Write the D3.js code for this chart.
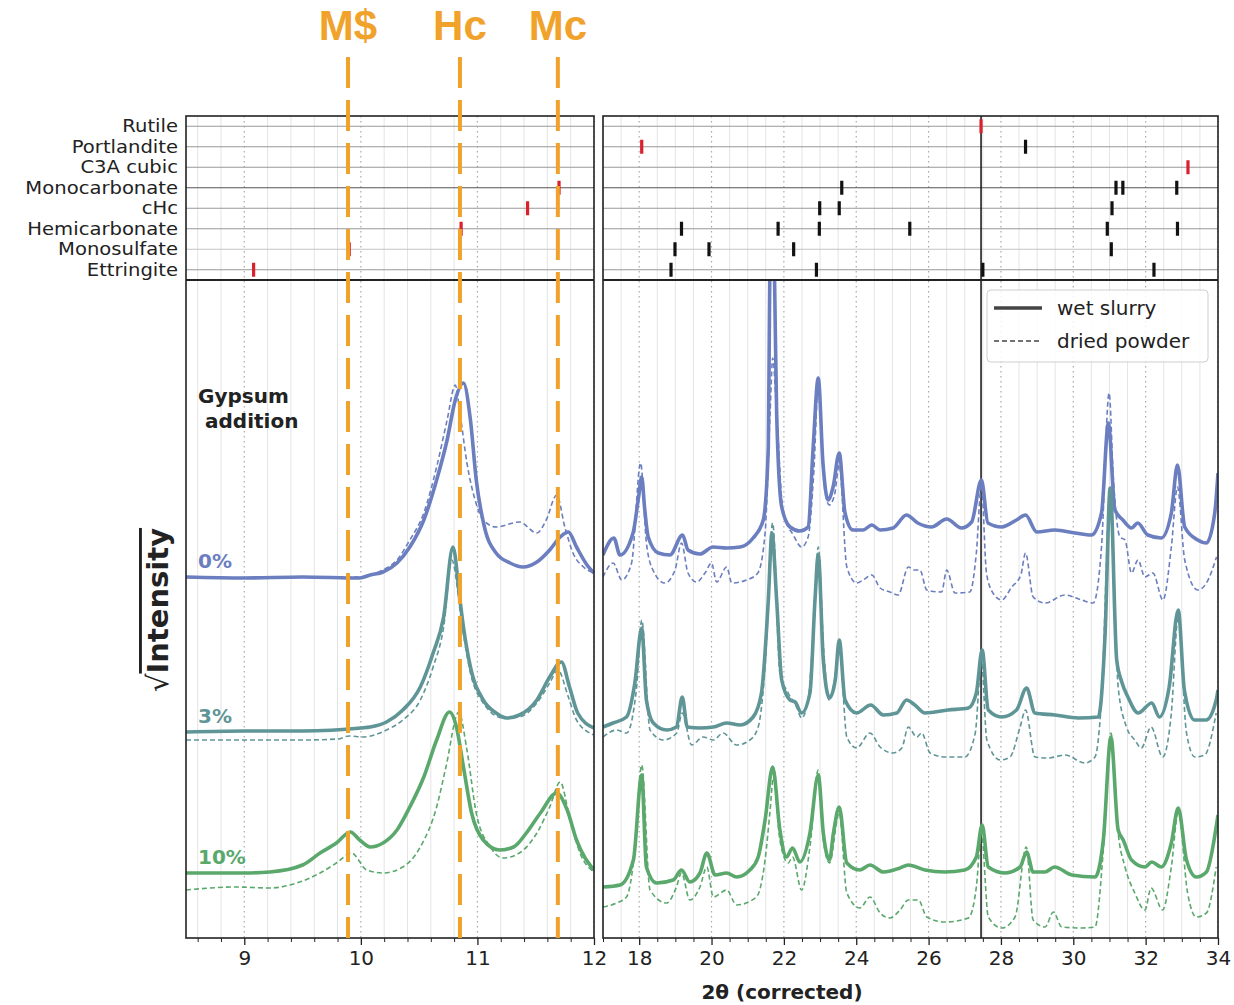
<!DOCTYPE html>
<html>
<head>
<meta charset="utf-8">
<script src="https://cdn.jsdelivr.net/npm/d3@7"></script>
<style>
  body { margin: 0; background: #fff; }
  svg { font-family: "DejaVu Sans", sans-serif; }
</style>
</head>
<body>
<svg id="chart" width="1234" height="1005"></svg>
<script>
// ---- data ----
const phases = ['Rutile', 'Portlandite', 'C3A cubic', 'Monocarbonate', 'cHc', 'Hemicarbonate', 'Monosulfate', 'Ettringite'];

// reflection positions (2theta) per phase
const reflRutile = [27.45];
const reflPortlandite = [18.07, 28.68];
const reflC3A = [33.17];
const reflMonocarbonate = [11.70, 23.60, 31.18, 31.37, 32.86];
const reflCHc = [11.43, 22.99, 23.53, 31.07];
const reflHemicarbonate = [10.86, 19.17, 21.84, 22.98, 25.48, 30.94, 32.88];
const reflMonosulfate = [9.90, 18.99, 19.93, 22.27, 31.05];
const reflEttringite = [9.08, 18.88, 22.90, 27.50, 32.23];
// reflections drawn in red (main reflection of each phase)
const mainRefl = [27.45, 18.07, 33.17, 11.70, 11.43, 10.86, 9.90, 9.08];

// reference lines at the top
const refLabels = ['M$', 'Hc', 'Mc'];
const refPositions = [9.89, 10.85, 11.69];

const leftTicks = [9, 10, 11, 12];
const rightTicks = [18, 20, 22, 24, 26, 28, 30, 32, 34];
const blackLine = 27.45;

const seriesNames = ['0%', '3%', '10%'];

// sqrt intensity (a.u., offset per gypsum addition), [2theta, value]
const wet0 = [[8.5,361],[9.0,360],[9.5,361],[9.99,360],[10.08,363],[10.19,366],[10.31,375],[10.42,391],[10.54,418],[10.65,458],[10.74,498],[10.81,538],[10.88,555],[10.94,518],[10.99,458],[11.06,411],[11.16,385],[11.28,375],[11.39,371],[11.51,376],[11.62,388],[11.71,401],[11.78,406],[11.85,391],[11.94,373],[12.0,365],
  [17.0,383],[17.3,400],[17.47,383],[17.83,405],[17.98,440],[18.07,461],[18.15,430],[18.25,401],[18.53,385],[18.85,383],[19.2,403],[19.35,388],[19.68,384],[20.04,391],[20.42,390],[20.79,391],[21.15,400],[21.43,418],[21.57,491],[21.6,620],[21.67,820],[21.75,640],[21.8,525],[21.94,431],[22.17,411],[22.44,407],[22.67,411],[22.81,491],[22.95,560],[23.08,475],[23.22,438],[23.36,451],[23.53,485],[23.69,425],[23.91,408],[24.19,408],[24.43,413],[24.66,408],[25.02,410],[25.39,423],[25.7,415],[26.08,411],[26.5,419],[26.91,410],[27.19,416],[27.46,458],[27.64,415],[28.02,411],[28.43,418],[28.68,423],[28.99,406],[29.49,408],[30.05,405],[30.5,403],[30.78,425],[30.97,515],[31.15,428],[31.37,418],[31.61,410],[31.78,415],[32.06,403],[32.43,400],[32.71,425],[32.88,473],[33.08,411],[33.44,398],[33.68,395],[33.91,425],[34.0,465]];
const dry0 = [[8.5,361],[9.0,360],[9.5,361],[9.99,361],[10.08,363],[10.19,368],[10.31,378],[10.42,398],[10.54,425],[10.65,471],[10.74,518],[10.81,553],[10.85,525],[10.91,475],[10.98,438],[11.05,418],[11.16,411],[11.36,416],[11.51,405],[11.59,418],[11.68,443],[11.75,411],[11.82,385],[11.91,371],[12.0,365],
  [17.0,361],[17.28,375],[17.52,358],[17.79,375],[18.04,475],[18.2,395],[18.38,368],[18.71,355],[18.99,368],[19.17,395],[19.35,365],[19.59,356],[19.82,365],[20.0,375],[20.14,356],[20.42,371],[20.56,355],[20.97,358],[21.28,365],[21.48,405],[21.62,525],[21.69,580],[21.8,525],[21.98,425],[22.26,403],[22.49,391],[22.67,401],[22.83,468],[22.95,553],[23.1,458],[23.25,433],[23.4,443],[23.53,473],[23.74,371],[24.01,355],[24.19,358],[24.43,363],[24.66,350],[24.93,346],[25.16,343],[25.44,371],[25.6,368],[25.76,368],[25.95,348],[26.36,346],[26.5,368],[26.73,345],[27.14,346],[27.32,385],[27.46,453],[27.6,365],[27.78,345],[28.02,338],[28.3,351],[28.55,363],[28.68,385],[28.89,341],[29.22,335],[29.77,343],[30.23,338],[30.55,335],[30.78,391],[30.99,545],[31.11,458],[31.29,401],[31.43,398],[31.61,365],[31.79,378],[31.98,361],[32.2,365],[32.48,338],[32.71,391],[32.88,451],[33.08,378],[33.44,348],[33.68,355],[33.96,381]];
const wet3 = [[8.5,206],[9.0,207],[9.5,207],[10.0,210],[10.08,211],[10.22,216],[10.36,228],[10.51,251],[10.62,285],[10.71,321],[10.79,391],[10.85,338],[10.88,311],[10.94,271],[11.05,238],[11.16,225],[11.25,220],[11.36,223],[11.51,238],[11.62,261],[11.72,276],[11.79,251],[11.86,225],[12.0,210],
  [17.0,211],[17.28,215],[17.65,221],[17.88,255],[18.07,310],[18.2,238],[18.39,215],[18.76,208],[19.03,211],[19.19,241],[19.33,211],[19.68,210],[20.05,211],[20.42,215],[20.79,213],[21.15,221],[21.38,245],[21.57,338],[21.67,405],[21.8,338],[21.94,258],[22.17,238],[22.31,236],[22.49,225],[22.72,245],[22.86,338],[22.95,383],[23.09,278],[23.26,240],[23.42,258],[23.53,298],[23.69,238],[24.01,225],[24.4,233],[24.75,223],[25.12,225],[25.39,238],[25.62,233],[25.9,225],[26.54,228],[27.1,230],[27.32,245],[27.48,288],[27.65,228],[28.02,221],[28.43,228],[28.71,250],[28.94,225],[29.49,223],[30.14,220],[30.69,221],[30.88,305],[31.02,450],[31.2,278],[31.34,256],[31.51,241],[31.79,225],[32.17,235],[32.38,221],[32.65,251],[32.9,328],[33.07,248],[33.35,218],[33.67,218],[33.95,238],[34.0,248]];
const dry3 = [[8.5,198],[9.0,198],[9.5,198],[9.8,199],[9.9,202],[10.02,201],[10.22,208],[10.36,218],[10.51,238],[10.62,271],[10.71,311],[10.78,378],[10.87,311],[10.94,265],[11.05,235],[11.22,220],[11.36,221],[11.51,235],[11.62,255],[11.69,268],[11.78,241],[11.85,218],[12.0,203],
  [17.0,201],[17.38,208],[17.65,205],[17.93,251],[18.07,318],[18.3,208],[18.67,198],[19.04,205],[19.19,225],[19.45,193],[19.77,201],[20.05,198],[20.32,205],[20.69,193],[21.06,198],[21.29,211],[21.48,271],[21.69,415],[21.89,265],[22.12,245],[22.35,231],[22.49,220],[22.67,238],[22.83,318],[22.95,391],[23.1,288],[23.25,238],[23.4,258],[23.53,291],[23.74,201],[24.01,190],[24.38,205],[24.66,191],[25.02,185],[25.26,190],[25.44,211],[25.67,201],[25.81,205],[26.04,185],[26.45,181],[27.0,181],[27.29,205],[27.46,278],[27.61,198],[27.98,178],[28.25,181],[28.53,211],[28.68,228],[28.94,181],[29.31,180],[29.77,183],[30.32,175],[30.6,181],[30.78,238],[31.02,445],[31.24,251],[31.47,211],[31.7,198],[31.88,190],[32.15,211],[32.47,181],[32.71,225],[32.9,321],[33.13,205],[33.36,181],[33.63,183],[33.95,225]];
const wet10 = [[8.5,65],[9.0,65],[9.22,66],[9.5,73],[9.65,85],[9.79,95],[9.91,106],[9.99,98],[10.08,91],[10.19,95],[10.31,108],[10.42,131],[10.54,161],[10.65,198],[10.76,226],[10.82,211],[10.88,171],[10.95,125],[11.05,98],[11.19,88],[11.31,91],[11.42,105],[11.54,125],[11.68,145],[11.77,128],[11.85,98],[12.0,68],
  [17.0,51],[17.47,53],[17.84,78],[18.07,163],[18.2,71],[18.48,55],[18.94,58],[19.17,68],[19.4,56],[19.68,65],[19.87,85],[20.1,63],[20.42,65],[20.69,61],[21.06,68],[21.29,81],[21.48,118],[21.69,171],[21.89,108],[22.07,81],[22.24,90],[22.44,76],[22.72,105],[22.95,163],[23.09,105],[23.26,78],[23.37,105],[23.53,131],[23.74,75],[24.1,68],[24.38,73],[24.75,66],[25.21,70],[25.44,73],[25.9,68],[26.45,66],[27.0,68],[27.32,81],[27.48,113],[27.65,71],[28.11,65],[28.53,71],[28.71,86],[28.89,66],[29.22,66],[29.48,71],[29.96,63],[30.6,61],[30.83,98],[31.04,201],[31.24,108],[31.38,98],[31.61,78],[31.98,71],[32.17,76],[32.43,71],[32.71,95],[32.9,130],[33.13,78],[33.4,61],[33.68,66],[33.95,111],[34.0,123]];
const dry10 = [[8.5,48],[8.93,51],[9.22,50],[9.45,55],[9.65,65],[9.79,75],[9.92,85],[10.05,68],[10.19,65],[10.36,71],[10.51,91],[10.65,131],[10.73,171],[10.84,226],[10.91,188],[10.99,125],[11.11,91],[11.22,80],[11.36,85],[11.51,105],[11.62,131],[11.71,156],[11.79,121],[11.88,85],[12.0,66],
  [17.0,31],[17.38,35],[17.65,41],[17.88,88],[18.07,173],[18.3,48],[18.76,35],[19.03,51],[19.17,65],[19.4,38],[19.68,51],[19.87,71],[20.05,41],[20.42,48],[20.69,33],[21.24,41],[21.48,78],[21.62,128],[21.71,161],[21.89,98],[22.12,75],[22.24,81],[22.49,48],[22.72,91],[22.95,168],[23.09,98],[23.26,75],[23.53,125],[23.74,45],[24.1,30],[24.38,41],[24.66,25],[24.93,20],[25.21,28],[25.44,38],[25.72,38],[25.95,21],[26.45,16],[27.1,20],[27.32,51],[27.46,105],[27.65,21],[28.02,10],[28.39,21],[28.7,91],[28.89,18],[29.22,11],[29.45,26],[29.68,11],[30.23,10],[30.6,11],[30.83,88],[31.04,205],[31.24,105],[31.43,71],[31.7,45],[31.98,28],[32.15,50],[32.47,28],[32.71,71],[32.9,125],[33.16,45],[33.4,21],[33.68,25],[33.95,71]];

const wetSeries = [wet0, wet3, wet10];
const drySeries = [dry0, dry3, dry10];

// ---- layout ----
const colors = ['#6b7ebf', '#5f9596', '#5aa86c'];
const orange = '#f0a22b';
const svg = d3.select('#chart');

const top0 = 116, mid = 280, bottom = 938;
const xL = d3.scaleLinear().domain([8.5, 12]).range([186, 594]);
const xR = d3.scaleLinear().domain([17, 34]).range([603, 1218]);
const yRow = d3.scalePoint().domain(phases).range([top0, mid]).padding(0.5);
const yI = d3.scaleLinear().domain([0, 658]).range([bottom, mid]);

const panels = [
  { x: xL, ticks: leftTicks, minorStep: 0.2, id: 'L' },
  { x: xR, ticks: rightTicks, minorStep: 0.5, id: 'R' }
];

const defs = svg.append('defs');
panels.forEach(p => {
  const [a, b] = p.x.range();
  defs.append('clipPath').attr('id', 'clip' + p.id)
    .append('rect').attr('x', a).attr('y', mid).attr('width', b - a).attr('height', bottom - mid);
});

panels.forEach(p => {
  const [d0, d1] = p.x.domain();
  const [a, b] = p.x.range();
  const minors = d3.range(Math.ceil(d0 / p.minorStep) * p.minorStep, d1 + 1e-6, p.minorStep)
    .filter(v => !p.ticks.some(t => Math.abs(t - v) < 1e-6));
  const g = svg.append('g');

  // minor grid
  g.selectAll('.mg').data(minors).enter().append('line')
    .attr('x1', d => p.x(d)).attr('x2', d => p.x(d))
    .attr('y1', top0).attr('y2', bottom)
    .attr('stroke', '#e4e4e4').attr('stroke-width', 1);
  // major grid (dotted)
  g.selectAll('.Mg').data(p.ticks).enter().append('line')
    .attr('x1', d => p.x(d)).attr('x2', d => p.x(d))
    .attr('y1', top0).attr('y2', bottom)
    .attr('stroke', '#a8a8a8').attr('stroke-width', 1.2)
    .attr('stroke-dasharray', '1.5,3.5');

  // row lines in top panel
  g.selectAll('.row').data(phases).enter().append('line')
    .attr('x1', a).attr('x2', b)
    .attr('y1', d => yRow(d)).attr('y2', d => yRow(d))
    .attr('stroke', d => d === 'Monocarbonate' ? '#555' : (d === 'Monosulfate' ? '#c4c4c4' : '#999'))
    .attr('stroke-width', 1);

  // x axis with major and minor ticks
  const axis = svg.append('g').attr('transform', `translate(0,${bottom})`)
    .call(d3.axisBottom(p.x).tickValues(p.ticks).tickSize(7).tickPadding(6).tickFormat(d3.format('d')));
  axis.select('.domain').remove();
  axis.selectAll('text').attr('font-size', 20).attr('fill', '#222')
    .attr('font-family', '"DejaVu Sans", sans-serif');
  axis.selectAll('line').attr('stroke', '#222').attr('stroke-width', 1.3);
  const minorAxis = svg.append('g').attr('transform', `translate(0,${bottom})`)
    .call(d3.axisBottom(p.x).tickValues(minors).tickSize(4).tickFormat(''));
  minorAxis.select('.domain').remove();
  minorAxis.selectAll('line').attr('stroke', '#222').attr('stroke-width', 1);
});

// black reference line (rutile)
svg.append('line')
  .attr('x1', xR(blackLine)).attr('x2', xR(blackLine))
  .attr('y1', top0).attr('y2', bottom)
  .attr('stroke', '#111').attr('stroke-width', 1.5);

// reflection markers
const reflBy = [reflRutile, reflPortlandite, reflC3A, reflMonocarbonate, reflCHc, reflHemicarbonate, reflMonosulfate, reflEttringite];
const markers = [];
phases.forEach((ph, i) => reflBy[i].forEach(pos => markers.push({ ph, pos })));
svg.append('g').selectAll('rect').data(markers).enter().append('rect')
  .attr('x', d => (d.pos < 15 ? xL(d.pos) : xR(d.pos)) - 1.6)
  .attr('y', d => yRow(d.ph) - 7)
  .attr('width', 3.2).attr('height', 14)
  .attr('fill', d => mainRefl.includes(d.pos) ? '#d9202c' : '#111');

// phase labels (slightly widened, compact height)
svg.append('g').selectAll('text').data(phases).enter().append('text')
  .attr('transform', d => `translate(178,${yRow(d)}) scale(1.12,1)`)
  .attr('dy', '0.35em').attr('text-anchor', 'end')
  .attr('font-size', 17.5).attr('fill', '#222')
  .text(d => d);

// diffraction patterns
panels.forEach(p => {
  const [d0, d1] = p.x.domain();
  const line = d3.line().x(d => p.x(d[0])).y(d => yI(d[1])).curve(d3.curveMonotoneX);
  const g = svg.append('g').attr('clip-path', `url(#clip${p.id})`);
  seriesNames.forEach((s, i) => {
    g.append('path')
      .datum(drySeries[i].filter(d => d[0] >= d0 - 0.5 && d[0] <= d1 + 0.5))
      .attr('d', line).attr('fill', 'none')
      .attr('stroke', colors[i]).attr('stroke-width', 1.6)
      .attr('stroke-dasharray', '5,3');
    g.append('path')
      .datum(wetSeries[i].filter(d => d[0] >= d0 - 0.5 && d[0] <= d1 + 0.5))
      .attr('d', line).attr('fill', 'none')
      .attr('stroke', colors[i]).attr('stroke-width', 3.6)
      .attr('stroke-linejoin', 'round');
  });
});

// panel frames
panels.forEach(p => {
  const [a, b] = p.x.range();
  svg.append('rect').attr('x', a).attr('y', top0).attr('width', b - a).attr('height', bottom - top0)
    .attr('fill', 'none').attr('stroke', '#222').attr('stroke-width', 1.6);
  svg.append('line').attr('x1', a).attr('x2', b).attr('y1', mid).attr('y2', mid)
    .attr('stroke', '#222').attr('stroke-width', 2.2);
});

// series labels
const labelY = [wet0[0][1], wet3[0][1], wet10[0][1]];
seriesNames.forEach((s, i) => {
  svg.append('text')
    .attr('x', 198).attr('y', yI(labelY[i]) - 9)
    .attr('font-size', 20).attr('font-weight', 'bold')
    .attr('fill', colors[i]).text(s);
});
svg.append('text').attr('x', 198).attr('y', 403)
  .attr('font-size', 20).attr('font-weight', 'bold').attr('fill', '#222').text('Gypsum');
svg.append('text').attr('x', 205).attr('y', 428)
  .attr('font-size', 20).attr('font-weight', 'bold').attr('fill', '#222').text('addition');

// legend
const lg = svg.append('g');
lg.append('rect').attr('x', 987).attr('y', 290).attr('width', 221).attr('height', 72)
  .attr('rx', 4).attr('fill', 'rgba(255,255,255,0.85)').attr('stroke', '#cfcfcf');
[['wet slurry', null, 3.6], ['dried powder', '5,3', 1.6]].forEach((e, i) => {
  const y = 308 + i * 33;
  lg.append('line').attr('x1', 994).attr('x2', 1042).attr('y1', y).attr('y2', y)
    .attr('stroke', '#444').attr('stroke-width', e[2]).attr('stroke-dasharray', e[1]);
  lg.append('text').attr('x', 1057).attr('y', y).attr('dy', '0.35em')
    .attr('font-size', 20).attr('fill', '#222').text(e[0]);
});

// orange reference lines
refPositions.forEach((pos, i) => {
  svg.append('line')
    .attr('x1', xL(pos)).attr('x2', xL(pos))
    .attr('y1', 57).attr('y2', bottom)
    .attr('stroke', orange).attr('stroke-width', 4)
    .attr('stroke-dasharray', '31,12');
  svg.append('text')
    .attr('x', xL(pos)).attr('y', 40)
    .attr('text-anchor', 'middle')
    .attr('font-family', '"Liberation Sans", Arial, sans-serif')
    .attr('font-weight', 'bold').attr('font-size', 42)
    .attr('fill', orange).text(refLabels[i]);
});

// axis titles
svg.append('text').attr('x', 782).attr('y', 999)
  .attr('text-anchor', 'middle').attr('font-size', 20).attr('font-weight', 'bold')
  .attr('fill', '#222').text('2θ (corrected)');
const yt = svg.append('text')
  .attr('transform', 'translate(168,610) rotate(-90)')
  .attr('text-anchor', 'middle').attr('font-size', 29).attr('font-weight', 'bold').attr('fill', '#222');
yt.append('tspan').attr('font-weight', 'normal').text('√');
yt.append('tspan').style('text-decoration', 'overline').text('Intensity');
</script>
</body>
</html>
